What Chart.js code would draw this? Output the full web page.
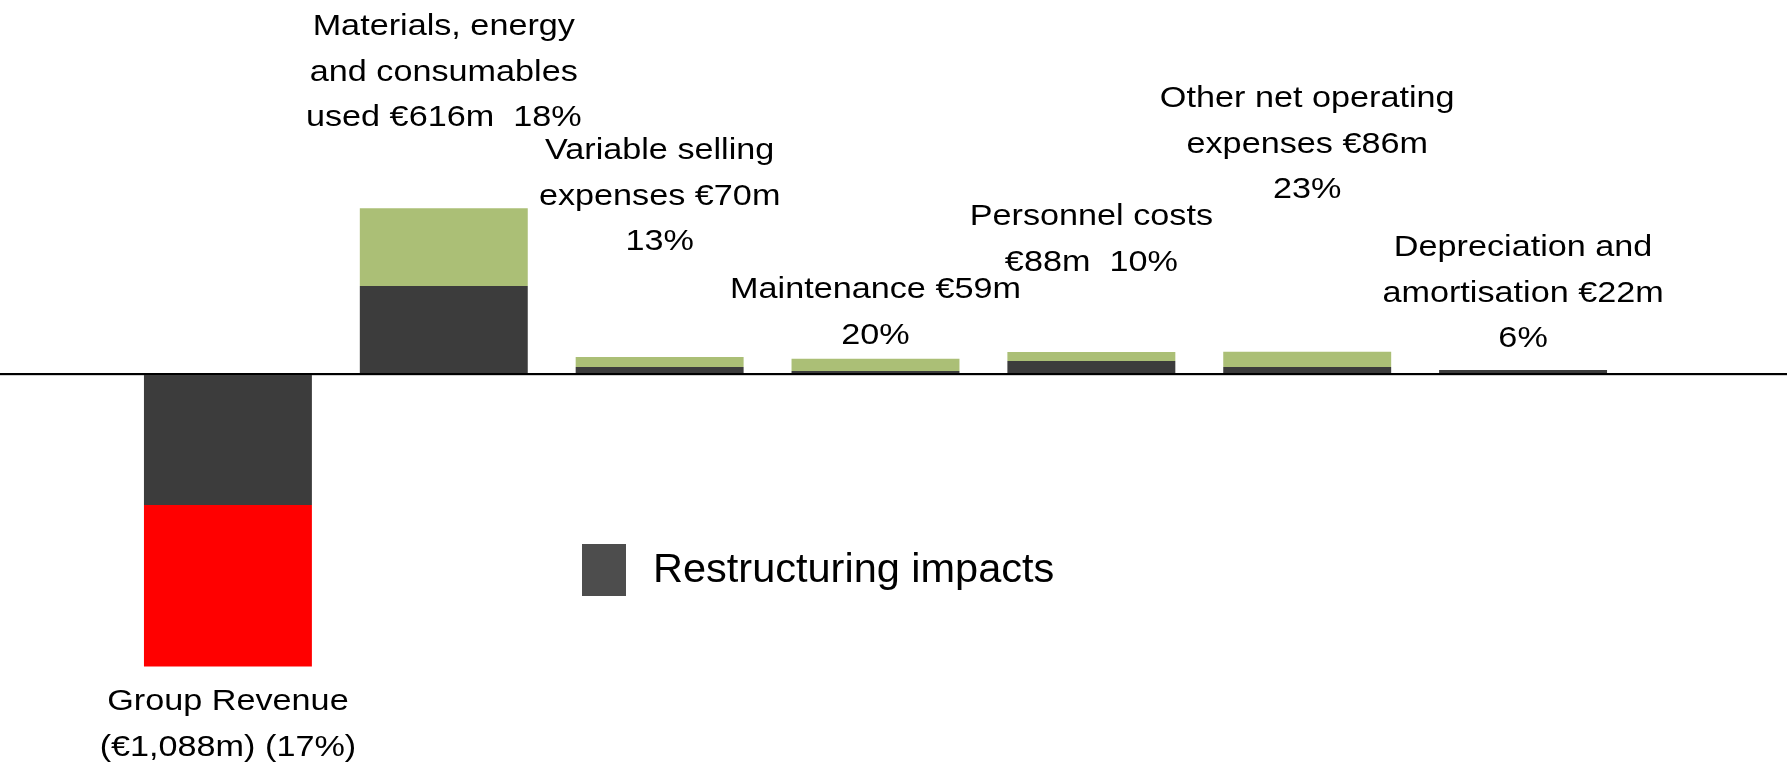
<!DOCTYPE html>
<html>
<head>
<meta charset="utf-8">
<script src="https://cdn.jsdelivr.net/npm/chart.js@4/dist/chart.umd.min.js"></script>
<style>
  html, body { margin: 0; padding: 0; background: #fff; }
  canvas { display: block; }
</style>
</head>
<body>
<canvas id="chart" width="1787" height="768"></canvas>
<script>
// categories (multi-line labels as shown on the chart)
const categories = [
    ['Group Revenue', '(€1,088m) (17%)'],
    ['Materials, energy', 'and consumables', 'used €616m  18%'],
    ['Variable selling', 'expenses €70m', '13%'],
    ['Maintenance €59m', '20%'],
    ['Personnel costs', '€88m  10%'],
    ['Other net operating', 'expenses €86m', '23%'],
    ['Depreciation and', 'amortisation €22m', '6%']
];

// series values (€m)
const restructuring = [-487, 327, 26, 11, 48, 26, 15];
const remainder = [-601, 289, 37, 45, 33, 56, 0];

// label placement (middle of first line, px) and styles
const labelTop = [702, 27, 151, 290, 217, 99, 248];
const lineGap = 45.6;
const darkColor = '#3c3c3c';
const greenColor = '#abbf76';
const redColor = '#ff0000';
const legendColor = '#4d4d4d';
const fontFamily = '"Liberation Sans", Arial, sans-serif';

const labelPlugin = {
    id: 'labels',
    beforeDatasetsDraw(chart) {
        // faint shadow line under the axis
        const y0 = Math.round(chart.scales.y.getPixelForValue(0));
        chart.ctx.save();
        chart.ctx.fillStyle = '#d0d0d0';
        chart.ctx.fillRect(0, y0 + 1, chart.width, 1);
        chart.ctx.restore();
    },
    afterDatasetsDraw(chart) {
        const ctx = chart.ctx;
        const x = chart.scales.x;
        const y = chart.scales.y;

        // zero line across the whole width
        const y0 = Math.round(y.getPixelForValue(0));
        ctx.save();
        ctx.fillStyle = '#000';
        ctx.fillRect(0, y0 - 1, chart.width, 2);

        // category labels (slightly stretched like the source)
        ctx.font = '30px ' + fontFamily;
        ctx.textAlign = 'center';
        ctx.textBaseline = 'middle';
        categories.forEach((lines, i) => {
            const cx = x.getPixelForValue(i);
            lines.forEach((line, j) => {
                ctx.save();
                ctx.translate(cx, labelTop[i] + j * lineGap);
                ctx.scale(1.14, 1);
                ctx.fillText(line, 0, 0);
                ctx.restore();
            });
        });

        // legend (restructuring impacts only)
        ctx.fillStyle = legendColor;
        ctx.fillRect(582, 544, 44, 52);
        ctx.fillStyle = '#000';
        ctx.font = '41.5px ' + fontFamily;
        ctx.textAlign = 'left';
        ctx.fillText(chart.data.datasets[0].label, 653, 571);
        ctx.restore();
    }
};

new Chart(document.getElementById('chart'), {
    type: 'bar',
    data: {
        labels: categories.map(c => c.join(' ')),
        datasets: [
            {
                label: 'Restructuring impacts',
                data: restructuring,
                backgroundColor: darkColor
            },
            {
                label: 'Other',
                data: remainder,
                backgroundColor: remainder.map((v, i) => i === 0 ? redColor : greenColor)
            }
        ]
    },
    options: {
        responsive: false,
        animation: false,
        layout: { padding: { left: 120, right: 156, top: 0, bottom: 0 } },
        datasets: {
            bar: { categoryPercentage: 1, barPercentage: 0.778, borderWidth: 0 }
        },
        scales: {
            x: { stacked: true, display: false },
            y: { stacked: true, display: false, min: -1465, max: 1390 }
        },
        plugins: {
            legend: { display: false },
            tooltip: { enabled: false }
        }
    },
    plugins: [labelPlugin]
});
</script>
</body>
</html>
